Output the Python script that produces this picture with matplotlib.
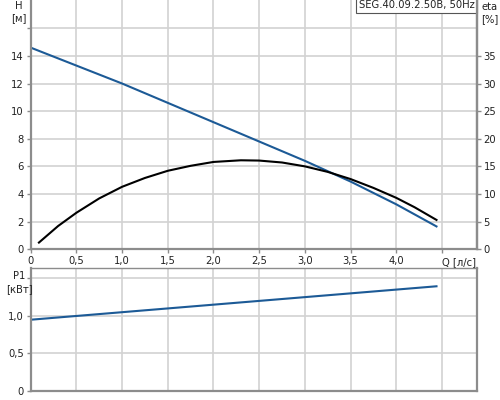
import matplotlib
matplotlib.use("Agg")
import matplotlib.pyplot as plt
import numpy as np

# values
q_h = [0.0, 0.5, 1.0, 1.5, 2.0, 2.5, 3.0, 3.5, 4.0, 4.44]
h = [14.6, 13.3, 12.0, 10.6, 9.2, 7.8, 6.4, 4.9, 3.25, 1.65]

q_eta = [0.09, 0.3, 0.5, 0.75, 1.0, 1.25, 1.5, 1.75, 2.0, 2.3, 2.5, 2.75, 3.0, 3.25, 3.5, 3.75, 4.0, 4.2, 4.44]
eta = [1.2, 4.2, 6.6, 9.2, 11.3, 12.9, 14.2, 15.1, 15.8, 16.1, 16.05, 15.7, 15.0, 14.0, 12.7, 11.1, 9.3, 7.6, 5.3]

q_p = [0.0, 1.0, 2.0, 3.0, 4.44]
p1 = [0.946, 1.046, 1.146, 1.246, 1.39]

x_ticks = [0, 0.5, 1.0, 1.5, 2.0, 2.5, 3.0, 3.5, 4.0]
x_labels = ["0", "0,5", "1,0", "1,5", "2,0", "2,5", "3,0", "3,5", "4,0"]
h_ticks = [0, 2, 4, 6, 8, 10, 12, 14]
eta_ticks = [0, 5, 10, 15, 20, 25, 30, 35]
p_ticks = [0, 0.5, 1.0]
p_labels = ["0", "0,5", "1,0"]

title = "SEG.40.09.2.50B, 50Hz"

blue = "#1c5a96"
grid_c = "#d2d2d2"
spine_c = "#8c8c8c"
txt = "#222222"
fs = 7.2

fig = plt.figure(figsize=(5, 4), dpi=100)
ax = fig.add_axes([0.0614, 0.377, 0.892, 0.623])
ax2 = ax.twinx()
axp = fig.add_axes([0.0614, 0.0225, 0.892, 0.307])

xmax = 4.88

def style(a):
    a.set_xlim(0, xmax)
    a.set_xticks(np.arange(0, 4.51, 0.5))
    a.grid(True, color=grid_c, linewidth=1.2)
    a.set_axisbelow(True)
    for s in ["left", "bottom", "right"]:
        a.spines[s].set_color(spine_c)
        a.spines[s].set_linewidth(1.6)
    a.tick_params(colors=spine_c, labelcolor=txt, labelsize=fs, length=3, width=1, pad=2)

style(ax)
ax.spines["top"].set_visible(False)
ax.set_ylim(0, 18.05)
ax.set_yticks(np.arange(0, 16.1, 2))
ax.set_yticklabels([str(v) for v in h_ticks] + [""])
ax.set_xticklabels(x_labels + [""])
ax.plot(q_h, h, color=blue, linewidth=1.5)

ax2.set_ylim(0, 18.05 * 2.5)
ax2.set_yticks(eta_ticks)
ax2.set_yticklabels([str(v) for v in eta_ticks])
for s in ["left", "bottom", "top"]:
    ax2.spines[s].set_visible(False)
ax2.spines["right"].set_color(spine_c)
ax2.spines["right"].set_linewidth(1.6)
ax2.tick_params(colors=spine_c, labelcolor=txt, labelsize=fs, length=3, width=1, pad=2)
ax2.plot(q_eta, eta, color="black", linewidth=1.5)

ax.text(4.5, -0.55, "Q [л/с]", ha="left", va="top", fontsize=fs, color=txt)
fig.text(0.038, 0.998, "H\n[м]", ha="center", va="top", fontsize=fs, color=txt, linespacing=1.3)
fig.text(0.962, 0.995, "eta\n[%]", ha="left", va="top", fontsize=fs, color=txt, linespacing=1.3)
ax.text(0.995, 0.998, title, transform=ax.transAxes, ha="right", va="top", fontsize=fs, color=txt,
        bbox=dict(facecolor="white", edgecolor="#555555", linewidth=0.8, boxstyle="square,pad=0.25"),
        zorder=10)

style(axp)
axp.spines["top"].set_color(spine_c)
axp.spines["top"].set_linewidth(1.0)
axp.set_ylim(0, 1.63)
axp.set_yticks([0, 0.5, 1.0, 1.5])
axp.set_yticklabels(p_labels + [""])
axp.set_xticklabels([])
axp.tick_params(axis="x", length=0)
axp.plot(q_p, p1, color=blue, linewidth=1.5)
fig.text(0.038, 0.322, "P1\n[кВт]", ha="center", va="top", fontsize=fs, color=txt, linespacing=1.3)

fig.savefig("out.png", dpi=100)
